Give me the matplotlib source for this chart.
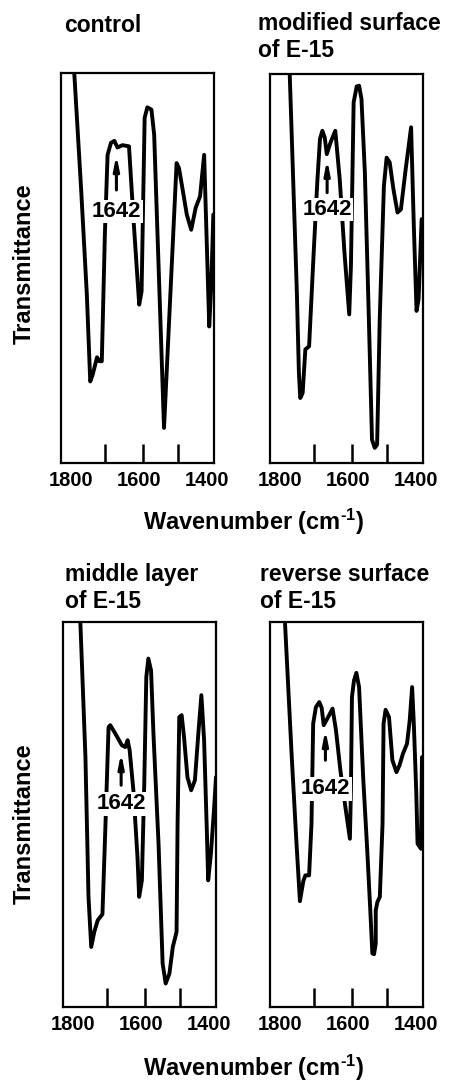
# ============================================================
# FTIR spectra (1800-1400 cm-1) : control vs. E-15 film layers
# ============================================================

import matplotlib
matplotlib.use('Agg')
import matplotlib.pyplot as plt

# ------------------------------------------------------------
# fonts
# ------------------------------------------------------------

plt.rcParams['font.family'] = ['Liberation Sans', 'DejaVu Sans']
plt.rcParams['font.weight'] = 'bold'
plt.rcParams['mathtext.fontset'] = 'custom'
plt.rcParams['mathtext.rm'] = 'Liberation Sans:bold'
plt.rcParams['mathtext.it'] = 'Liberation Sans:bold'
plt.rcParams['mathtext.bf'] = 'Liberation Sans:bold'

# ------------------------------------------------------------
# data (transmittance in relative units)
# ------------------------------------------------------------

control_wn = [1791, 1771, 1754, 1744, 1737, 1724, 1717, 1710, 1701, 1693,
              1683, 1673, 1664, 1649, 1630, 1617, 1600, 1593, 1584, 1576,
              1564, 1556, 1527, 1490, 1483, 1473, 1460, 1447, 1434, 1421,
              1409, 1402, 1394, 1388, 1382]
control_T = [1.00, 0.705, 0.432, 0.209, 0.226, 0.271, 0.261, 0.261, 0.585, 0.79,
             0.821, 0.826, 0.809, 0.815, 0.812, 0.628, 0.406, 0.44, 0.885, 0.912,
             0.906, 0.842, 0.09, 0.769, 0.756, 0.705, 0.637, 0.598, 0.654, 0.684,
             0.79, 0.585, 0.35, 0.457, 0.637]

modified_wn = [1772, 1751, 1745, 1741, 1734, 1726, 1715, 1703, 1691, 1683,
               1676, 1669, 1663, 1652, 1638, 1625, 1611, 1597, 1592, 1584,
               1575, 1568, 1561, 1551, 1540, 1530, 1522, 1515, 1507, 1495,
               1487, 1478, 1467, 1455, 1445, 1431, 1415, 1407, 1399, 1393,
               1384]
modified_T = [1.00, 0.438, 0.232, 0.167, 0.18, 0.292, 0.30, 0.515, 0.721, 0.833,
              0.854, 0.837, 0.794, 0.824, 0.854, 0.73, 0.541, 0.382, 0.506, 0.927,
              0.968, 0.97, 0.936, 0.747, 0.395, 0.06, 0.039, 0.047, 0.378, 0.712,
              0.785, 0.773, 0.704, 0.644, 0.652, 0.755, 0.863, 0.609, 0.391, 0.421,
              0.627]

middle_wn = [1779, 1764, 1755, 1747, 1738, 1728, 1714, 1705, 1696, 1691,
             1676, 1657, 1647, 1640, 1634, 1623, 1611, 1606, 1598, 1591,
             1585, 1579, 1571, 1564, 1549, 1537, 1528, 1517, 1507, 1496,
             1493, 1488, 1481, 1474, 1464, 1453, 1442, 1432, 1423, 1415,
             1407, 1403, 1395, 1386, 1380]
middle_T = [1.00, 0.649, 0.286, 0.156, 0.195, 0.225, 0.241, 0.476, 0.727, 0.732,
            0.71, 0.68, 0.675, 0.693, 0.667, 0.563, 0.39, 0.286, 0.329, 0.58,
            0.857, 0.905, 0.874, 0.71, 0.424, 0.113, 0.061, 0.087, 0.156, 0.195,
            0.476, 0.753, 0.758, 0.701, 0.597, 0.563, 0.589, 0.71, 0.81, 0.693,
            0.459, 0.329, 0.398, 0.511, 0.597]

reverse_wn = [1786, 1766, 1752, 1742, 1732, 1726, 1715, 1708, 1703, 1695,
              1685, 1678, 1672, 1659, 1646, 1636, 1623, 1607, 1595, 1592,
              1589, 1583, 1576, 1568, 1556, 1544, 1535, 1529, 1524, 1519,
              1519, 1514, 1507, 1499, 1496, 1490, 1480, 1470, 1458, 1449,
              1439, 1427, 1419, 1412, 1407, 1400, 1396, 1386, 1383]
reverse_T = [1.00, 0.649, 0.424, 0.275, 0.327, 0.342, 0.342, 0.476, 0.736, 0.779,
             0.792, 0.777, 0.732, 0.753, 0.775, 0.719, 0.615, 0.511, 0.437, 0.563,
             0.805, 0.848, 0.868, 0.831, 0.597, 0.407, 0.251, 0.139, 0.137, 0.165,
             0.251, 0.273, 0.286, 0.476, 0.736, 0.772, 0.753, 0.641, 0.61, 0.628,
             0.658, 0.684, 0.745, 0.831, 0.736, 0.563, 0.424, 0.411, 0.649]

titles = ['control', 'modified surface\nof E-15',
          'middle layer\nof E-15', 'reverse surface\nof E-15']

# "1642" band label + arrow (wavenumber, label y, arrow tail y, arrow head y)
band_wn = [1667, 1662, 1659, 1667]
band_label_T = [0.645, 0.652, 0.528, 0.567]
band_tail_T = [0.70, 0.695, 0.576, 0.641]
band_head_T = [0.79, 0.78, 0.66, 0.72]

tick_values = [1800, 1600, 1400]
inner_ticks = [1702, 1590, 1487]

# ------------------------------------------------------------
# figure
# ------------------------------------------------------------

W, H = 455, 1086
fig = plt.figure(figsize=(W / 100, H / 100), dpi=100)
fig.patch.set_facecolor('white')


def rect(l, t, r, b):
    return [l / W, 1 - b / H, (r - l) / W, (b - t) / H]


rects = [rect(61, 73, 214, 463), rect(270, 74, 423, 463),
         rect(63, 622, 216, 1007), rect(270, 622, 423, 1007)]

spectra = [(control_wn, control_T), (modified_wn, modified_T),
           (middle_wn, middle_T), (reverse_wn, reverse_T)]

for i, (wn, T) in enumerate(spectra):
    ax = fig.add_axes(rects[i])

    ax.plot(wn, T, color='black', lw=2.8,
            solid_joinstyle='round', solid_capstyle='round', zorder=2)

    ax.set_xlim(1830, 1380)
    ax.set_ylim(0, 1)

    # labels below, short ticks pointing in from the bottom
    ax.set_xticks(tick_values)
    ax.set_xticklabels([str(v) for v in tick_values], fontsize=14.5, fontweight='bold')
    ax.tick_params(axis='x', which='major', length=0, pad=6)
    ax.set_xticks(inner_ticks, minor=True)
    ax.tick_params(axis='x', which='minor', direction='in', length=13.5,
                   width=1.8, color='black')
    ax.set_yticks([])

    for s in ax.spines.values():
        s.set_linewidth(1.6)

    # band label
    ax.text(band_wn[i], band_label_T[i], '1642', ha='center', va='center',
            fontsize=16, fontweight='bold', zorder=3,
            bbox=dict(facecolor='white', edgecolor='none', pad=1.0))
    ax.annotate('', xy=(band_wn[i], band_head_T[i]),
                xytext=(band_wn[i], band_tail_T[i]),
                arrowprops=dict(arrowstyle='-|>,head_length=0.8,head_width=0.16',
                                color='black', lw=2.2, shrinkA=0, shrinkB=0),
                zorder=4)

# ------------------------------------------------------------
# titles and axis labels
# ------------------------------------------------------------

title_pos = [(64, 25), (258, 37), (65, 588), (260, 588)]
for (x, y), t in zip(title_pos, titles):
    fig.text(x / W, 1 - y / H, t, ha='left', va='center',
             fontsize=16.5, fontweight='bold', linespacing=1.2)

for y in [522, 1068]:
    fig.text(254 / W, 1 - y / H, r'Wavenumber (cm$^{\text{-1}}$)', ha='center',
             va='center', fontsize=17, fontweight='bold')

for y in [264, 824]:
    fig.text(24 / W, 1 - y / H, 'Transmittance', rotation=90, ha='center',
             va='center', fontsize=17, fontweight='bold')

plt.savefig('out.png', dpi=100)
